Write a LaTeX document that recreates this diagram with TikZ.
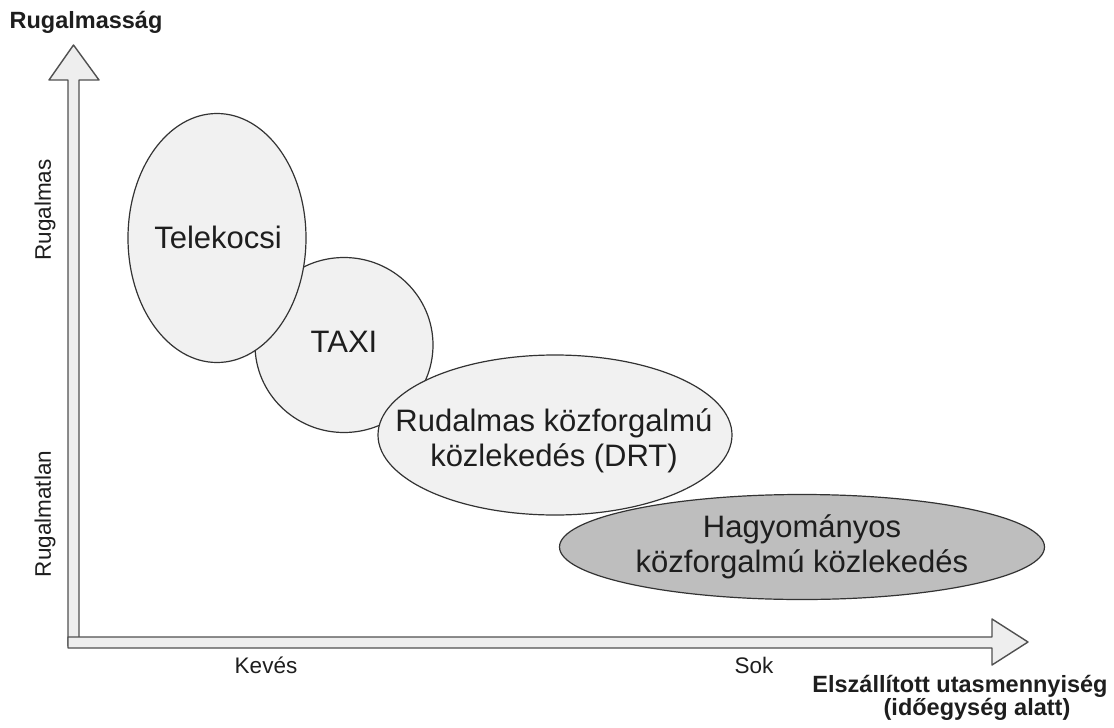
\documentclass[tikz,border=0pt]{standalone}
\usepackage{fontspec}
\setmainfont{Liberation Sans}
\usetikzlibrary{shapes.geometric}
\definecolor{lightfill}{HTML}{F1F1F1}
\definecolor{darkfill}{HTML}{BEBEBE}
\definecolor{edge}{HTML}{333333}
\definecolor{arrowedge}{HTML}{505050}
\definecolor{arrowfill}{HTML}{EEEEEE}
\definecolor{txt}{HTML}{1E1E1E}
\tikzset{
  blob/.style={ellipse, draw=edge, line width=1.2pt, fill=lightfill, inner sep=0pt},
  blobtext/.style={align=center, text=txt, inner sep=0pt, font=\fontsize{31}{35}\selectfont},
  axisarrow/.style={draw=arrowedge, fill=arrowfill, line width=1.4pt, line join=round},
  boldlabel/.style={font=\bfseries\fontsize{23.5}{26}\selectfont, text=txt, inner sep=0pt},
  plainlabel/.style={font=\fontsize{22.5}{25}\selectfont, text=txt, inner sep=0pt}
}
\begin{document}
\begin{tikzpicture}[x=1pt,y=-1pt]
\useasboundingbox[fill=white] (0,0) rectangle (1114,728);
% axes
\draw[axisarrow] (68,646) -- (68,80) -- (49,80) -- (73.5,45) -- (99,80) -- (79,80) -- (79,646) -- cycle;
\draw[axisarrow] (68,637) -- (992,637) -- (992,619) -- (1028,642) -- (992,665) -- (992,648) -- (68,648) -- cycle;
% ellipses
\node[blob, minimum width=178pt, minimum height=175pt] (taxi) at (344,345) {};
\node[blob, minimum width=178pt, minimum height=249pt] (tele) at (217,238) {};
\node[blobtext] (teletext) at (218,237) {Telekocsi};
\node[blobtext] (taxitext) at (344,342) {TAXI};
\node[blob, minimum width=354pt, minimum height=160pt] (drt) at (555,435) {};
\node[blobtext] (drttext) at (554,441) {Rudalmas közforgalmú\\közlekedés (DRT)};
\node[blob, fill=darkfill, minimum width=485pt, minimum height=105pt] (hagy) at (802,547) {};
\node[blobtext] (hagytext) at (802,547) {Hagyományos\\közforgalmú közlekedés};
% labels
\node[boldlabel] (ylab) at (86,22) {Rugalmasság};
\node[boldlabel] (xlab1) at (960,686) {Elszállított utasmennyiség};
\node[boldlabel] (xlab2) at (977,709) {(időegység alatt)};
\node[plainlabel, rotate=90] (rug) at (45,210) {Rugalmas};
\node[plainlabel, rotate=90] (rugtl) at (45,514) {Rugalmatlan};
\node[plainlabel] (keves) at (266,665) {Kevés};
\node[plainlabel] (sok) at (754,665) {Sok};
\end{tikzpicture}
\end{document}
